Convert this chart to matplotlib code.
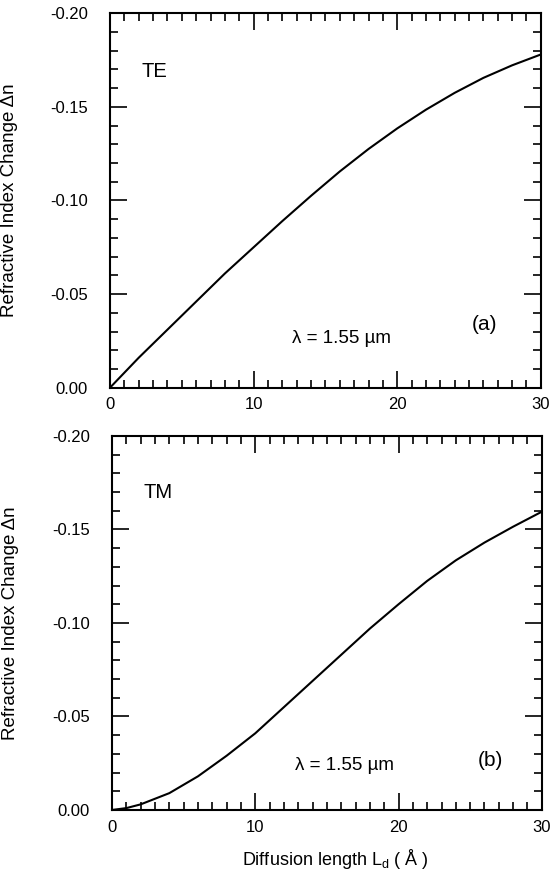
import matplotlib
matplotlib.use("Agg")
import matplotlib.pyplot as plt
from matplotlib.ticker import MultipleLocator, FormatStrFormatter

plt.rcParams['font.family'] = ['Liberation Sans', 'DejaVu Sans']
plt.rcParams['mathtext.default'] = 'regular'

# Diffusion length (Angstrom)
ld_te = [0, 2, 4, 6, 8, 10, 12, 14, 16, 18, 20, 22, 24, 26, 28, 30]
dn_te = [0.000, -0.016, -0.031, -0.046, -0.061, -0.075, -0.089, -0.1025,
         -0.1155, -0.1275, -0.1385, -0.1485, -0.1575, -0.1655, -0.1722, -0.178]

ld_tm = [0, 1, 2, 4, 6, 8, 10, 12, 14, 16, 18, 20, 22, 24, 26, 28, 30]
dn_tm = [0.000, -0.001, -0.003, -0.009, -0.018, -0.029, -0.041, -0.055,
         -0.069, -0.083, -0.097, -0.110, -0.1225, -0.1335, -0.143, -0.1515, -0.1595]

mode_labels = ["TE", "TM"]
panel_labels = ["(a)", "(b)"]
wavelength_text = "λ = 1.55 µm"
ylabel_text = "Refractive Index Change Δn"
xlabel_text = "Diffusion length L$_{d}$ ( Å )"

fig = plt.figure(figsize=(5.51, 8.73), dpi=100)
ax1 = fig.add_axes([0.1996, 0.5559, 0.782, 0.4289])
ax2 = fig.add_axes([0.2033, 0.0722, 0.780, 0.4284])

series = [(ld_te, dn_te), (ld_tm, dn_tm)]
mode_pos = [(2.2, -0.169), (2.2, -0.170)]
panel_pos = [(26.1, -0.0335), (26.4, -0.0267)]
lam_pos = [(16.1, -0.0264), (16.2, -0.024)]
ylab_x = [-0.2135, -0.217]

for i, ax in enumerate([ax1, ax2]):
    x, y = series[i]
    ax.plot(x, y, color='black', lw=1.5)
    ax.set_xlim(0, 30)
    ax.set_ylim(0.0, -0.20)
    ax.xaxis.set_major_locator(MultipleLocator(10))
    ax.xaxis.set_minor_locator(MultipleLocator(1))
    ax.yaxis.set_major_locator(MultipleLocator(0.05))
    ax.yaxis.set_minor_locator(MultipleLocator(0.01))
    ax.yaxis.set_major_formatter(FormatStrFormatter('%.2f'))
    ax.tick_params(which='both', direction='in', top=True, right=True,
                   width=1.2, labelsize=12)
    ax.tick_params(axis='y', which='major', length=12, pad=16)
    ax.tick_params(axis='x', which='major', length=12, pad=7)
    ax.tick_params(which='minor', length=6)
    for s in ax.spines.values():
        s.set_linewidth(1.5)
    ax.set_ylabel(ylabel_text, fontsize=13.5)
    ax.yaxis.set_label_coords(ylab_x[i], 0.5)
    ax.text(*mode_pos[i], mode_labels[i], fontsize=14.5, ha='left', va='center')
    ax.text(*panel_pos[i], panel_labels[i], fontsize=15, ha='center', va='center')
    ax.text(*lam_pos[i], wavelength_text, fontsize=13.5, ha='center', va='center')

ax2.set_xlabel(xlabel_text, fontsize=13)
ax2.xaxis.set_label_coords(0.52, -0.100)

fig.savefig("out.png", dpi=100)
